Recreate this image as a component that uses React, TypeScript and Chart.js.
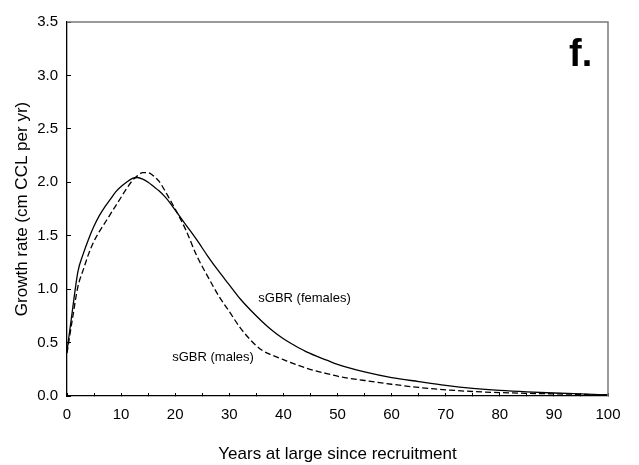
import React, { useEffect, useRef } from "react";
import { Chart, registerables } from "chart.js";

Chart.register(...registerables);

const years = [0, 1, 2, 3, 4, 5, 6, 7, 8, 9, 10, 11, 12, 13, 14, 15, 16, 17, 18, 19, 20, 22, 24, 26, 28, 30, 32, 34, 36, 38, 40, 42, 44, 46, 48, 50, 55, 60, 65, 70, 75, 80, 85, 90, 95, 100];
const femaleRate = [0.42, 0.8, 1.16, 1.33, 1.47, 1.59, 1.69, 1.77, 1.84, 1.91, 1.96, 2.0, 2.035, 2.045, 2.03, 2.0, 1.96, 1.92, 1.87, 1.81, 1.74, 1.6, 1.46, 1.31, 1.17, 1.04, 0.91, 0.8, 0.7, 0.61, 0.535, 0.475, 0.42, 0.375, 0.335, 0.295, 0.225, 0.172, 0.135, 0.1, 0.072, 0.052, 0.038, 0.028, 0.02, 0.01];
const maleRate = [0.4, 0.72, 1.02, 1.18, 1.33, 1.45, 1.54, 1.62, 1.7, 1.78, 1.86, 1.94, 2.01, 2.06, 2.09, 2.09, 2.06, 2.01, 1.93, 1.84, 1.75, 1.55, 1.31, 1.12, 0.94, 0.79, 0.64, 0.52, 0.43, 0.38, 0.34, 0.3, 0.265, 0.235, 0.21, 0.185, 0.145, 0.11, 0.08, 0.058, 0.042, 0.032, 0.025, 0.02, 0.015, 0.01];

const seriesLabels = ["sGBR (females)", "sGBR (males)"];
const labelX = [43.9, 27.0];
const labelY = [0.912, 0.362];
const panelLetter = "f.";

const xTitle = "Years at large since recruitment";
const yTitle = "Growth rate (cm CCL per yr)";

const FONT = "'Liberation Sans', Arial, Helvetica, sans-serif";

export default function App() {
  const ref = useRef<HTMLCanvasElement | null>(null);

  useEffect(() => {
    document.body.style.margin = "0";
    const canvas = ref.current;
    if (!canvas) return;

    const annotate = {
      id: "annotate",
      afterDraw(chart: any) {
        const { ctx, chartArea, scales } = chart;
        ctx.save();
        ctx.strokeStyle = "#7a7a7a";
        ctx.lineWidth = 1.5;
        ctx.beginPath();
        ctx.moveTo(chartArea.left, chartArea.top);
        ctx.lineTo(chartArea.right, chartArea.top);
        ctx.lineTo(chartArea.right, chartArea.bottom);
        ctx.stroke();
        ctx.fillStyle = "#000";
        ctx.font = `13px ${FONT}`;
        ctx.textAlign = "center";
        ctx.textBaseline = "middle";
        seriesLabels.forEach((t, i) => {
          ctx.fillText(t, scales.x.getPixelForValue(labelX[i]), scales.y.getPixelForValue(labelY[i]));
        });
        ctx.font = `bold 38px ${FONT}`;
        ctx.textAlign = "left";
        ctx.textBaseline = "alphabetic";
        ctx.fillText(panelLetter, chartArea.right - 39, chartArea.top + 44);
        ctx.restore();
      },
    };

    const chart = new Chart(canvas, {
      type: "line",
      data: {
        datasets: [
          {
            label: seriesLabels[0],
            data: years.map((x, i) => ({ x, y: femaleRate[i] })),
            borderColor: "#000",
            borderWidth: 1.3,
            pointRadius: 0,
            fill: false,
            cubicInterpolationMode: "monotone",
          },
          {
            label: seriesLabels[1],
            data: years.map((x, i) => ({ x, y: maleRate[i] })),
            borderColor: "#000",
            borderWidth: 1.3,
            borderDash: [6, 3],
            pointRadius: 0,
            fill: false,
            cubicInterpolationMode: "monotone",
          },
        ],
      },
      options: {
        responsive: false,
        animation: false,
        devicePixelRatio: 1,
        layout: { padding: { top: 14, right: 31, left: 0, bottom: 0 } },
        plugins: {
          legend: { display: false },
          tooltip: { enabled: false },
        },
        scales: {
          x: {
            type: "linear",
            min: 0,
            max: 100,
            afterFit: (s: any) => {
              s.height = 69;
            },
            ticks: {
              stepSize: 5,
              autoSkip: false,
              maxRotation: 0,
              color: "#000",
              padding: 13.3,
              font: { family: FONT, size: 15 },
              callback: (v: any) => (Number(v) % 10 === 0 ? String(v) : ""),
            },
            grid: {
              drawOnChartArea: false,
              drawTicks: true,
              tickLength: -3,
              color: "#000",
              tickColor: "#000",
            },
            border: { display: true, color: "#000", width: 1.3 },
            title: {
              display: true,
              text: xTitle,
              color: "#000",
              font: { family: FONT, size: 17 },
              padding: { top: 0, bottom: 0.8 },
            },
          },
          y: {
            type: "linear",
            min: 0,
            max: 3.5,
            afterFit: (s: any) => {
              s.width = 67;
            },
            ticks: {
              stepSize: 0.5,
              color: "#000",
              padding: 13,
              font: { family: FONT, size: 15 },
              callback: (v: any) => Number(v).toFixed(1),
            },
            grid: {
              drawOnChartArea: false,
              drawTicks: true,
              tickLength: -4,
              color: "#000",
              tickColor: "#000",
            },
            border: { display: true, color: "#000", width: 1.3 },
            title: {
              display: true,
              text: yTitle,
              color: "#000",
              font: { family: FONT, size: 17 },
              padding: { top: 12.2, bottom: 0 },
            },
          },
        },
      },
      plugins: [annotate],
    });

    return () => chart.destroy();
  }, []);

  return <canvas ref={ref} width={639} height={465} style={{ display: "block" }} />;
}
